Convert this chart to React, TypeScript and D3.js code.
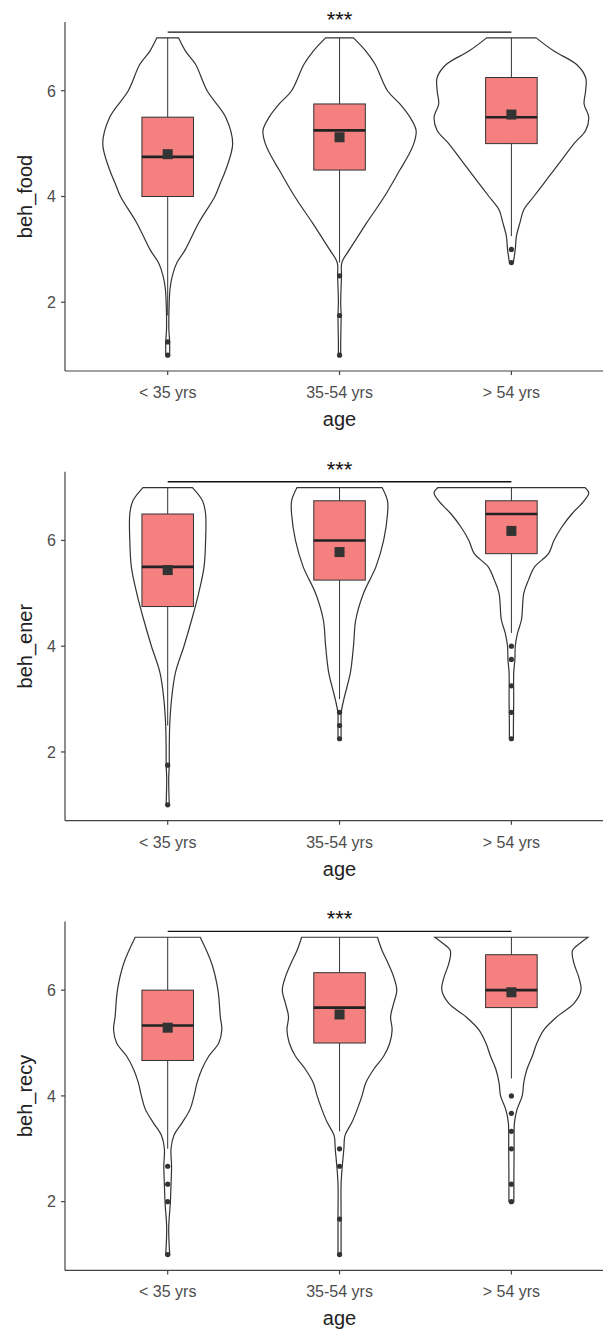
import React from 'react';
import * as d3 from 'd3';

// categories and axis ticks
const CATEGORIES = ['< 35 yrs', '35-54 yrs', '> 54 yrs'];
const Y_TICKS = [2, 4, 6];
const VARIABLES = ['beh_food', 'beh_ener', 'beh_recy'];

// violin outlines: [value, relative density (100 = widest)]
const FOOD_VIOLINS: [number, number][][] = [
  [[1, 2.5], [1.25, 2.5], [1.5, 1.5], [2, 2], [2.25, 3], [2.5, 6], [2.75, 12], [3, 23], [3.5, 40], [4, 61], [4.25, 68], [4.5, 75], [5, 84], [5.5, 75], [6, 51], [6.5, 36], [6.75, 23], [7, 14]],
  [[1, 1.5], [1.25, 1.5], [1.75, 2], [2, 1.5], [2.5, 2.5], [2.75, 3], [3, 13], [3.25, 24], [3.5, 35], [4, 58], [4.5, 78], [4.75, 88], [5, 96], [5.25, 99], [5.5, 91], [5.75, 78], [6, 62], [6.5, 46], [6.75, 34], [7, 18]],
  [[2.75, 2.5], [3, 5], [3.25, 6.5], [3.5, 11], [3.75, 16], [4, 29], [4.25, 42], [4.5, 55], [4.75, 68], [5, 81], [5.25, 96], [5.5, 100], [5.75, 94], [6, 96], [6.25, 96], [6.5, 84], [6.75, 55], [7, 32]],
];
const ENER_VIOLINS: [number, number][][] = [
  [[1, 2], [1.5, 1.3], [1.75, 2], [2, 2], [2.5, 2.6], [3, 5], [3.5, 10], [4, 21], [4.5, 31], [5, 40], [5.5, 47], [6, 49], [6.5, 49], [6.75, 45], [7, 32]],
  [[2.25, 2], [2.5, 2], [2.75, 2.2], [3, 5.6], [3.5, 14], [4, 18], [4.5, 21], [5, 31], [5.5, 47], [6, 57], [6.5, 62], [6.75, 62], [7, 55]],
  [[2.25, 2.6], [2.5, 2.6], [3, 3], [3.5, 3], [3.75, 4.5], [4, 5], [4.25, 8], [4.5, 13], [5, 16], [5.25, 22], [5.5, 30], [5.75, 48], [6, 55], [6.25, 65], [6.5, 78], [6.75, 94], [6.9, 100], [7, 95]],
];
const RECY_VIOLINS: [number, number][][] = [
  [[1, 2.6], [1.5, 1.3], [2, 3.5], [2.33, 4.3], [2.67, 5], [3, 4.3], [3.25, 8], [3.5, 19], [3.75, 29], [4, 34], [4.25, 38], [4.5, 44], [4.75, 53], [5, 66], [5.25, 70], [5.5, 68], [6, 65], [6.5, 57], [7, 42]],
  [[1, 2], [1.67, 2], [2.33, 2], [2.67, 3.5], [3, 5.6], [3.25, 7], [3.5, 16], [3.75, 23], [4, 29], [4.25, 34], [4.5, 44], [4.75, 57], [5, 65], [5.25, 68], [5.5, 66], [5.75, 70], [6, 74], [6.25, 70], [6.5, 63], [6.75, 55], [7, 49]],
  [[2, 3.2], [2.5, 3.2], [3, 3.5], [3.5, 4], [3.75, 7.4], [4, 14], [4.25, 16], [4.5, 20], [4.75, 27], [5, 33], [5.25, 42], [5.5, 59], [5.75, 81], [6, 90], [6.25, 87], [6.5, 81], [6.75, 79], [6.9, 90], [7, 99]],
];

// box statistics per age group
const FOOD_Q1 = [4, 4.5, 5];
const FOOD_MEDIAN = [4.75, 5.25, 5.5];
const FOOD_Q3 = [5.5, 5.75, 6.25];
const FOOD_WHISKER_LOW = [1.75, 2.75, 3.25];
const FOOD_MEAN = [4.8, 5.12, 5.55];
const FOOD_OUTLIERS = [[1.25, 1.0], [2.5, 1.75, 1.0], [3.0, 2.75]];

const ENER_Q1 = [4.75, 5.25, 5.75];
const ENER_MEDIAN = [5.5, 6.0, 6.5];
const ENER_Q3 = [6.5, 6.75, 6.75];
const ENER_WHISKER_LOW = [2.5, 3.0, 4.25];
const ENER_MEAN = [5.44, 5.78, 6.18];
const ENER_OUTLIERS = [[1.75, 1.0], [2.75, 2.5, 2.25], [4.0, 3.75, 3.25, 2.75, 2.25]];

const RECY_Q1 = [4.67, 5.0, 5.67];
const RECY_MEDIAN = [5.33, 5.67, 6.0];
const RECY_Q3 = [6.0, 6.33, 6.67];
const RECY_WHISKER_LOW = [3.0, 3.33, 4.33];
const RECY_MEAN = [5.29, 5.54, 5.96];
const RECY_OUTLIERS = [[2.67, 2.33, 2.0, 1.0], [3.0, 2.67, 1.67, 1.0], [4.0, 3.67, 3.33, 3.0, 2.33, 2.0]];

const WHISKER_HIGH = 7;
const SIGNIF = '***';

const PANELS = [
  { violins: FOOD_VIOLINS, q1: FOOD_Q1, med: FOOD_MEDIAN, q3: FOOD_Q3, lo: FOOD_WHISKER_LOW, mean: FOOD_MEAN, out: FOOD_OUTLIERS },
  { violins: ENER_VIOLINS, q1: ENER_Q1, med: ENER_MEDIAN, q3: ENER_Q3, lo: ENER_WHISKER_LOW, mean: ENER_MEAN, out: ENER_OUTLIERS },
  { violins: RECY_VIOLINS, q1: RECY_Q1, med: RECY_MEDIAN, q3: RECY_Q3, lo: RECY_WHISKER_LOW, mean: RECY_MEAN, out: RECY_OUTLIERS },
];

const W = 603;
const H = 1329;
const LEFT = 65;
const PANEL_H = 349;
const PANEL_STEP = 449.7;
const FIRST_TOP = 22;
const FONT = '"Liberation Sans", Arial, Helvetica, sans-serif';
const INK = '#333333';
const BOX_FILL = '#F4817F';

const xScale = d3.scalePoint<string>().domain(CATEGORIES).range([167.7, 511.4]);
const step = xScale.step();
const widthScale = d3.scaleLinear().domain([0, 100]).range([0, step * 0.45]);
const boxHalf = step * 0.15;

function Panel({ idx }: { idx: number }) {
  const p = PANELS[idx];
  const top = FIRST_TOP + idx * PANEL_STEP;
  const bottom = top + PANEL_H;
  const y = d3.scaleLinear().domain([0.7, 7.3]).range([bottom, top]);
  const bracketY = y(7.11);

  return (
    <g>
      {/* violins */}
      {CATEGORIES.map((c, i) => {
        const cx = xScale(c)!;
        const area = d3.area<[number, number]>()
          .y(d => y(d[0]))
          .x0(d => cx - widthScale(d[1]))
          .x1(d => cx + widthScale(d[1]))
          .curve(d3.curveCatmullRom.alpha(0.5));
        return <path key={'v' + i} d={area(p.violins[i]) || ''} fill="white" stroke={INK} strokeWidth={1.2} />;
      })}

      {/* boxplots */}
      {CATEGORIES.map((c, i) => {
        const cx = xScale(c)!;
        return (
          <g key={'b' + i}>
            <line x1={cx} x2={cx} y1={y(WHISKER_HIGH)} y2={y(p.q3[i])} stroke={INK} strokeWidth={1} />
            <line x1={cx} x2={cx} y1={y(p.q1[i])} y2={y(p.lo[i])} stroke={INK} strokeWidth={1} />
            <rect x={cx - boxHalf} y={y(p.q3[i])} width={boxHalf * 2} height={y(p.q1[i]) - y(p.q3[i])}
              fill={BOX_FILL} stroke={INK} strokeWidth={1} />
            <line x1={cx - boxHalf} x2={cx + boxHalf} y1={y(p.med[i])} y2={y(p.med[i])} stroke="#222" strokeWidth={2.6} />
            {p.out[i].map((v, j) => (
              <circle key={j} cx={cx} cy={y(v)} r={2.6} fill={INK} />
            ))}
            <rect x={cx - 5} y={y(p.mean[i]) - 5} width={10} height={10} fill={INK} />
          </g>
        );
      })}

      {/* significance bracket */}
      <line x1={xScale(CATEGORIES[0])} x2={xScale(CATEGORIES[2])} y1={bracketY} y2={bracketY} stroke="#111" strokeWidth={1.3} />
      <text x={(xScale(CATEGORIES[0])! + xScale(CATEGORIES[2])!) / 2} y={bracketY - 5} textAnchor="middle"
        fontSize={22} fontFamily={FONT} fill="#111">{SIGNIF}</text>

      {/* axes */}
      <line x1={LEFT} x2={LEFT} y1={top} y2={bottom} stroke="#444" strokeWidth={1.2} />
      <line x1={LEFT} x2={W} y1={bottom} y2={bottom} stroke="#444" strokeWidth={1.2} />
      {Y_TICKS.map(t => (
        <g key={'yt' + t}>
          <line x1={LEFT - 4} x2={LEFT} y1={y(t)} y2={y(t)} stroke="#444" strokeWidth={1.2} />
          <text x={LEFT - 9} y={y(t)} dy="0.36em" textAnchor="end" fontSize={16} fontFamily={FONT} fill="#4d4d4d">{t}</text>
        </g>
      ))}
      {CATEGORIES.map(c => (
        <g key={'xt' + c}>
          <line x1={xScale(c)} x2={xScale(c)} y1={bottom} y2={bottom + 4} stroke="#444" strokeWidth={1.2} />
          <text x={xScale(c)} y={bottom + 27} textAnchor="middle" fontSize={16} fontFamily={FONT} fill="#4d4d4d">{c}</text>
        </g>
      ))}
      <text x={xScale(CATEGORIES[1])} y={bottom + 55} textAnchor="middle" fontSize={20} fontFamily={FONT} fill="#222">age</text>
      <text transform={`translate(32, ${(top + bottom) / 2}) rotate(-90)`} textAnchor="middle" fontSize={20}
        fontFamily={FONT} fill="#222">{VARIABLES[idx]}</text>
    </g>
  );
}

export default function App() {
  return (
    <svg width={W} height={H} style={{ position: 'absolute', left: 0, top: 0, background: 'white' }}>
      <rect width={W} height={H} fill="white" />
      {PANELS.map((_, i) => <Panel key={i} idx={i} />)}
    </svg>
  );
}
